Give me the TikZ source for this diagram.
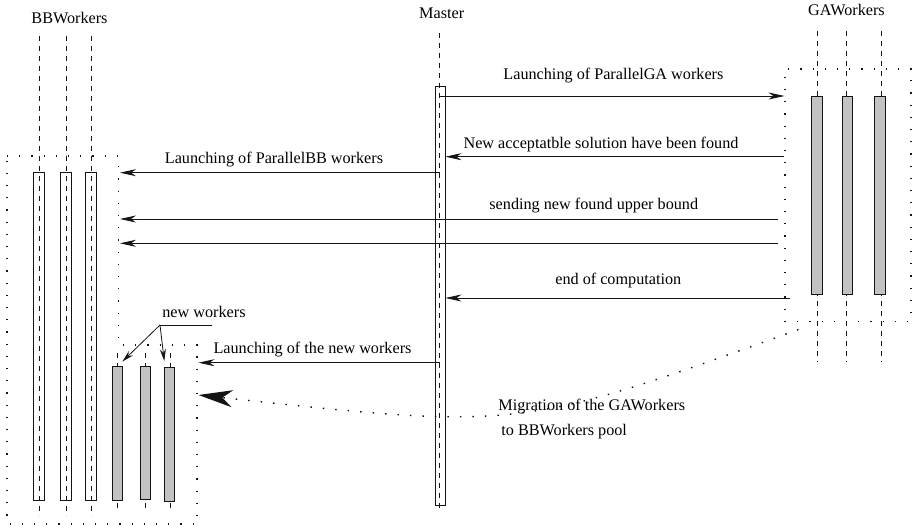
\documentclass[tikz,border=0pt]{standalone}
\usepackage{fontspec}
\setmainfont{Liberation Serif}
\usepackage{tikz}
\usetikzlibrary{arrows.meta}
\definecolor{LineInk}{gray}{0.08}
\definecolor{BusyGray}{gray}{0.76}
\tikzset{
  chart/.style={x=1pt,y=-1pt,font=\fontsize{16.2}{19}\selectfont,line width=0.8pt},
  lifeline/.style={draw=LineInk,dash pattern=on 5pt off 5pt,line width=0.8pt},
  hollowbar/.style={draw=LineInk,line width=0.8pt,inner sep=0pt},
  busybar/.style={hollowbar,fill=BusyGray},
  pool/.style={draw=LineInk,dash pattern=on 1.2pt off 11pt,line width=1.1pt},
  msg/.style={draw=LineInk,-{Stealth[length=16pt,width=7pt,inset=5pt]}},
  callout/.style={draw=LineInk,-{Stealth[length=12pt,width=6pt,inset=4pt]}},
  migrate/.style={draw=LineInk,dash pattern=on 1.5pt off 11pt,line width=1.4pt,
    -{Stealth[length=34pt,width=17pt,inset=10pt]}},
  lbl/.style={anchor=base,inner sep=0pt},
}

\begin{document}
\begin{tikzpicture}[chart]
  \useasboundingbox (0,0) rectangle (914,529);

  % titles
  \node[lbl] (bbtitle) at (69.5,23.3) {BBWorkers};
  \node[lbl] (mtitle) at (441.7,18.3) {Master};
  \node[lbl] (gatitle) at (846.5,15.5) {GAWorkers};

  % lifelines
  \draw[lifeline] (439.2,33) -- (439.2,512);
  \draw[lifeline] (39.3,36) -- (39.3,516);
  \draw[lifeline] (66.7,36) -- (66.7,516);
  \draw[lifeline] (91.3,36) -- (91.3,516);
  \draw[lifeline] (117.2,353) -- (117.2,508);
  \draw[lifeline] (145.5,353) -- (145.5,508);
  \draw[lifeline] (170.2,353) -- (170.2,508);
  \draw[lifeline] (817.5,31) -- (817.5,362);
  \draw[lifeline] (846.8,31) -- (846.8,362);
  \draw[lifeline] (881.6,31) -- (881.6,362);

  % worker pools
  \node[pool,minimum width=126pt,minimum height=252.5pt] (gapool) at (848,195.25) {};
  \draw[pool] (7,156) -- (118.7,156) -- (118.7,345) -- (197,345) -- (197,524)
    -- (7,524) -- cycle;
  \coordinate (bbedge) at (120,156);
  \coordinate (newedge) at (198.5,345);
  \coordinate (gasend) at (778,69);
  \coordinate (gaend) at (790,321.5);

  % activation bars
  \node[hollowbar,minimum width=9.7pt,minimum height=419pt] (master) at (440.2,295.5) {};
  \node[hollowbar,minimum width=11pt,minimum height=328pt] (bb1) at (38.8,336.7) {};
  \node[hollowbar,minimum width=11pt,minimum height=328pt] (bb2) at (66,336.7) {};
  \node[hollowbar,minimum width=11pt,minimum height=328pt] (bb3) at (90.8,336.7) {};
  \node[busybar,minimum width=9.5pt,minimum height=134pt] (nw1) at (117.2,433) {};
  \node[busybar,minimum width=10pt,minimum height=133pt] (nw2) at (145.5,432.5) {};
  \node[busybar,minimum width=10pt,minimum height=134pt] (nw3) at (169.7,434.5) {};
  \node[busybar,minimum width=10.5pt,minimum height=198pt] (ga1) at (817,195) {};
  \node[busybar,minimum width=10.5pt,minimum height=198pt] (ga2) at (847.2,195) {};
  \node[busybar,minimum width=10.5pt,minimum height=198pt] (ga3) at (879.7,195) {};

  % messages
  \draw[msg] (master.center |- 0,96) -- (gapool.west |- 0,96);
  \node[lbl] (lga) at (613.4,80) {Launching of ParallelGA workers};
  \draw[msg] (gapool.west |- 0,156.7) -- (master.east |- 0,156.7);
  \node[lbl] (lsol) at (601,148.3) {New acceptatble solution have been found};
  \draw[msg] (master.center |- 0,172.7) -- (bbedge |- 0,172.7);
  \node[lbl] (lbb) at (274,163.3) {Launching of ParallelBB workers};
  \draw[msg] (gasend |- 0,219) -- (bbedge |- 0,219);
  \node[lbl] (lub) at (593.8,210) {sending new found upper bound};
  \draw[msg] (gasend |- 0,243.3) -- (bbedge |- 0,243.3);
  \draw[msg] (gaend |- 0,298) -- (master.east |- 0,298);
  \node[lbl] (lend) at (618.3,285) {end of computation};
  \draw[msg] (master.center |- 0,362.7) -- (newedge |- 0,362.7);
  \node[lbl] (lnew) at (312.5,353.3) {Launching of the new workers};

  % migration of the GA workers
  \draw[migrate] ([xshift=14pt,yshift=-7.5pt]gapool.south west) .. controls (520,430) .. (newedge |- 0,395);
  \node[lbl,anchor=base west] (mig1) at (498,410.7) {Migration of the GAWorkers};
  \node[lbl,anchor=base west] (mig2) at (501,436) {to BBWorkers pool};

  % new workers callout
  \node[lbl] (nwlbl) at (204,317.3) {new workers};
  \coordinate (nwfork) at (160,325);
  \draw[LineInk] (nwfork) -- (212,325);
  \draw[callout] (nwfork) -- ([yshift=4pt]nw1.north east);
  \draw[callout] (nwfork) -- ([yshift=6pt]nw3.north west);
\end{tikzpicture}
\end{document}
